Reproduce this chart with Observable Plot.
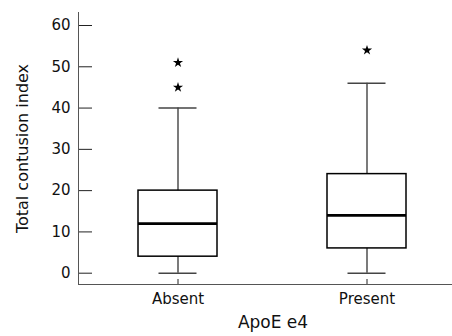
<!DOCTYPE html>
<html>
<head>
<meta charset="utf-8">
<script src="https://cdn.jsdelivr.net/npm/d3@7"></script>
<script src="https://cdn.jsdelivr.net/npm/@observablehq/plot@0.6"></script>
<style>
  body { margin: 0; background: #fff; }
  #chart svg { display: block; }
</style>
</head>
<body>
<div id="chart"></div>
<script>
const groups = ["Absent", "Present"];
const whiskerLow = [0, 0];
const q1 = [4, 6];
const median = [12, 14];
const q3 = [20, 24];
const whiskerHigh = [40, 46];
const outlierGroup = ["Absent", "Absent", "Present"];
const outlierValue = [51, 45, 54];
const yTicks = [0, 10, 20, 30, 40, 50, 60];

const boxes = groups.map((g, i) => ({
  group: g, lo: whiskerLow[i], q1: q1[i], med: median[i], q3: q3[i], hi: whiskerHigh[i]
}));
const outliers = outlierGroup.map((g, i) => ({group: g, value: outlierValue[i]}));

const yMin = -2.74, yMax = 63.15;
const font = "DejaVu Sans, sans-serif";

const chart = Plot.plot({
  width: 452,
  height: 336,
  marginLeft: 78,
  marginRight: 0,
  marginTop: 12,
  marginBottom: 52,
  style: {fontFamily: font, fontSize: "15px", color: "#111", background: "#fff"},
  x: {domain: groups, type: "band", paddingInner: 0.582, paddingOuter: 0.28, align: 0.57, axis: null},
  y: {domain: [yMin, yMax], axis: null},
  marks: [
    Plot.axisY({ticks: yTicks, tickSize: -14, tickPadding: 22, label: null, tickFormat: d => String(d), stroke: "#222", fill: "#111"}),
    Plot.axisX({tickSize: 0, tickPadding: 9, label: null, fill: "#111"}),
    Plot.ruleX(groups, {x: d => d, y1: yMin, y2: yMin, insetTop: -5, stroke: "#222"}),
    Plot.frame({anchor: "left", stroke: "#555"}),
    Plot.frame({anchor: "bottom", stroke: "#555"}),
    Plot.ruleX(boxes, {x: "group", y1: "lo", y2: "hi", stroke: "#222", strokeWidth: 1.2}),
    Plot.tickY(boxes, {x: "group", y: "lo", insetLeft: 20.5, insetRight: 20.5, stroke: "#444", strokeWidth: 1.5}),
    Plot.tickY(boxes, {x: "group", y: "hi", insetLeft: 20.5, insetRight: 20.5, stroke: "#444", strokeWidth: 1.5}),
    Plot.barY(boxes, {x: "group", y1: "q1", y2: "q3", fill: "#fff", stroke: "#000", strokeWidth: 1.5}),
    Plot.tickY(boxes, {x: "group", y: "med", stroke: "#000", strokeWidth: 2.6}),
    Plot.dot(outliers, {x: "group", y: "value", symbol: "star", fill: "#000", r: 3.2, stroke: null}),
    Plot.text(["ApoE e4"], {frameAnchor: "bottom", dy: 31, dx: 7.5, fontSize: 17, fill: "#111", lineAnchor: "top", textAnchor: "middle"}),
    Plot.text(["Total contusion index"], {frameAnchor: "left", dx: -56, rotate: -90, fontSize: 16, fill: "#111", textAnchor: "middle", lineAnchor: "middle"})
  ]
});
document.getElementById("chart").appendChild(chart);
</script>
</body>
</html>
